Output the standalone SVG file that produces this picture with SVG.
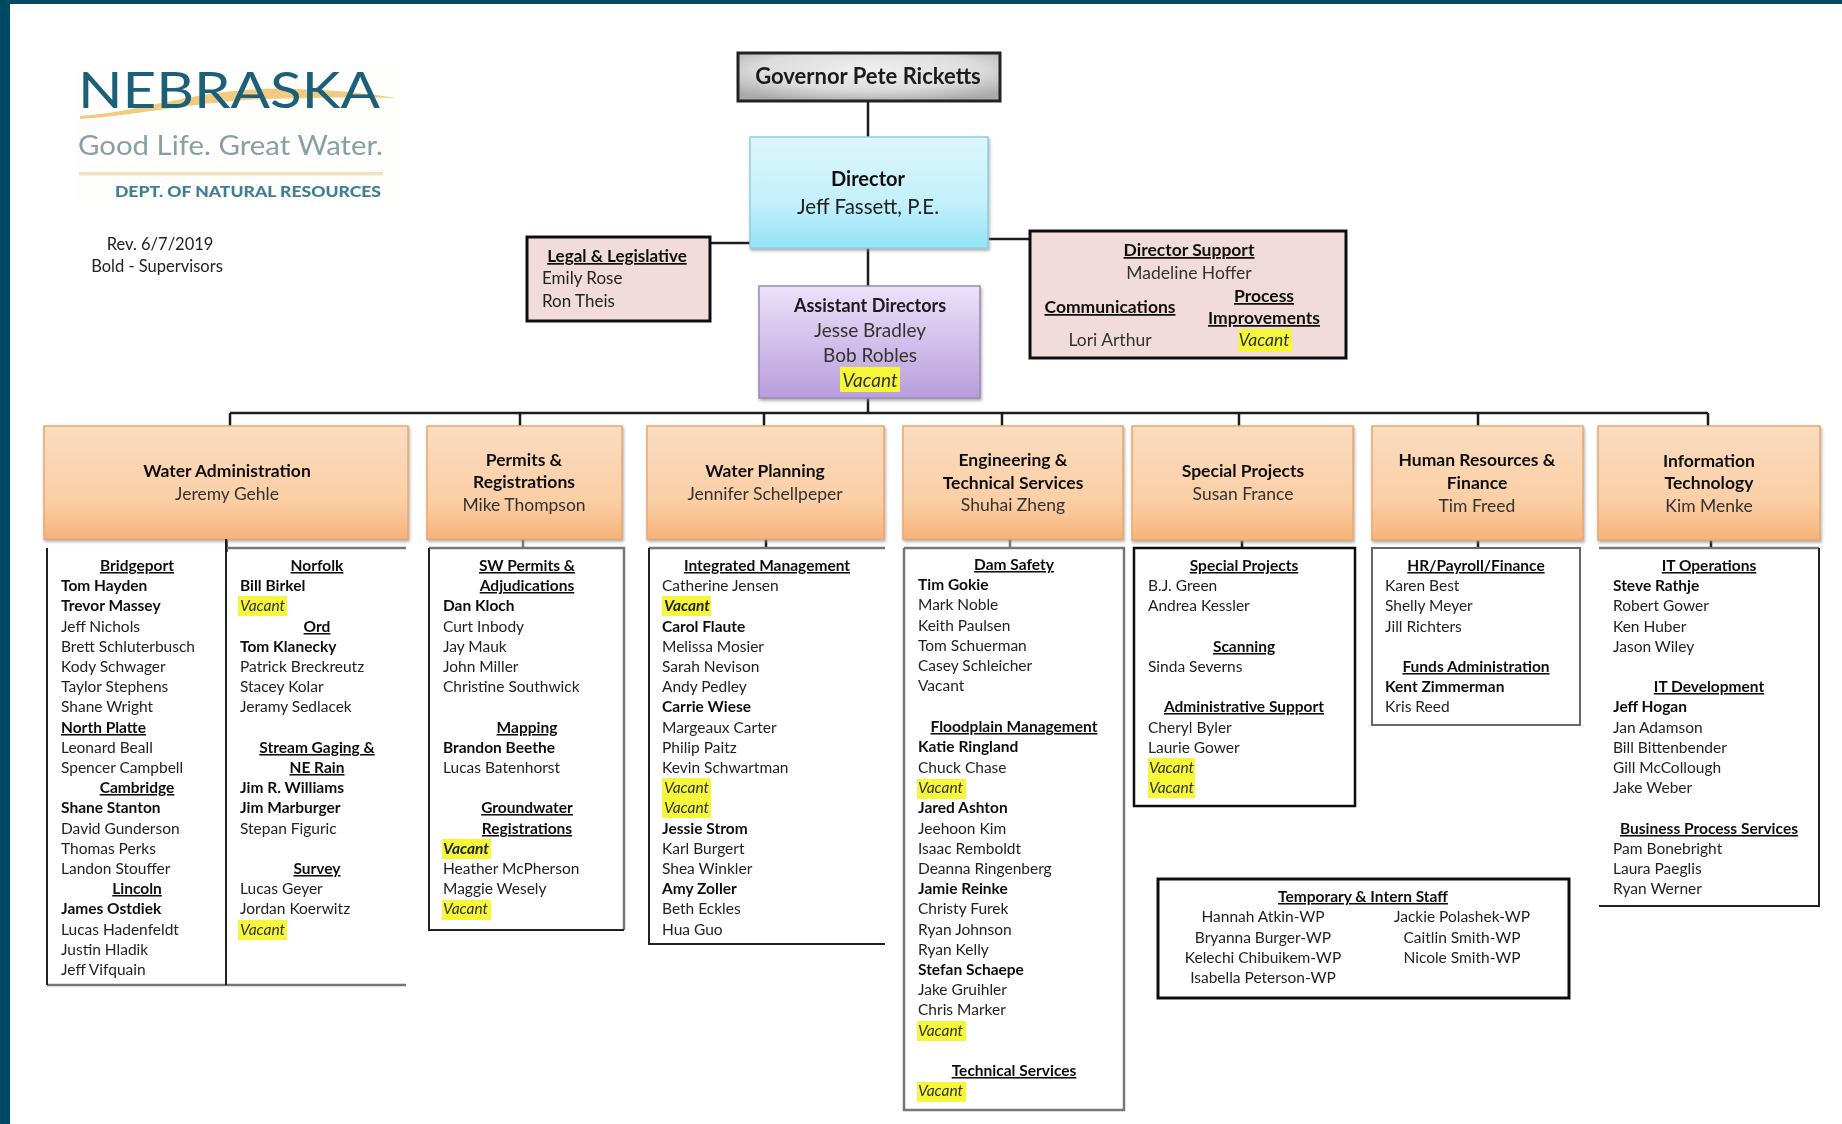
<svg xmlns="http://www.w3.org/2000/svg" width="1842" height="1124" viewBox="0 0 1842 1124">
<style>
text{font-family:Lato,"Open Sans","Liberation Sans",sans-serif;font-size:15.5px;fill:#222}
.b{font-weight:700;fill:#111}
.h{font-weight:700;fill:#111;text-anchor:middle;text-decoration:underline}
.hl{font-weight:700;fill:#111;text-decoration:underline}
.v{font-style:italic;fill:#333}
.vb{font-style:italic;font-weight:700;fill:#222}
.c{text-anchor:middle}
.t{font-size:17.5px;text-anchor:middle;fill:#333}
.tb{font-size:17.5px;font-weight:700;text-anchor:middle;fill:#111}
.d{font-size:17px}
.y{fill:#f5f738}
.pink{fill:#f2dcdb;stroke:#111;stroke-width:3}
.orange{fill:url(#go);stroke:#e9a870;stroke-width:1.5;filter:url(#sh)}
.conn{stroke:#1a1a1a;stroke-width:2.5;fill:none}
.e{stroke:#222;stroke-width:2;fill:none}
.g{stroke:#777;stroke-width:2.5;fill:none}
.k{fill:#fff;stroke:#111;stroke-width:2.5}
</style>
<defs>
<linearGradient id="go" x1="0" y1="0" x2="0" y2="1"><stop offset="0" stop-color="#fbdcc0"/><stop offset=".65" stop-color="#fbcfa6"/><stop offset="1" stop-color="#f8b37a"/></linearGradient>
<linearGradient id="gb" x1="0" y1="0" x2="0" y2="1"><stop offset="0" stop-color="#def6fc"/><stop offset=".6" stop-color="#c2f0fb"/><stop offset="1" stop-color="#93e3f6"/></linearGradient>
<linearGradient id="gp" x1="0" y1="0" x2="0" y2="1"><stop offset="0" stop-color="#ece2fa"/><stop offset="1" stop-color="#b99ddb"/></linearGradient>
<radialGradient id="gg" cx=".5" cy=".35" r=".7"><stop offset="0" stop-color="#f0f0f0"/><stop offset=".6" stop-color="#dcdcdc"/><stop offset="1" stop-color="#a9a9a9"/></radialGradient>
<filter id="sh" x="-5%" y="-5%" width="110%" height="115%"><feDropShadow dx="1" dy="2" stdDeviation="1.5" flood-color="#888" flood-opacity=".7"/></filter>
<filter id="soft" filterUnits="userSpaceOnUse" x="0" y="0" width="1842" height="1124"><feGaussianBlur stdDeviation="0.7"/></filter>
</defs>
<rect width="1842" height="1124" fill="#fff"/>
<g filter="url(#soft)">
<g id="frame"><rect width="1842" height="4" fill="#014a63"/><rect width="10" height="1124" fill="#014a63"/></g>
<g id="logo">
<rect x="75" y="68" width="325" height="132" fill="#fefefc"/>
<path d="M80 116C140 112 190 92 260 89C310 88 360 92 396 98C350 97 310 98 265 99C200 101 140 115 80 119Z" fill="#f0cb80"/>
<text x="78" y="108" textLength="302" lengthAdjust="spacingAndGlyphs" style="font-size:50px;font-weight:400;fill:#1f5f78">NEBRASKA</text>
<text x="78" y="155" textLength="305" lengthAdjust="spacingAndGlyphs" style="font-size:27px;font-weight:400;fill:#87a0a5">Good Life. Great Water.</text>
<rect x="79" y="172" width="304" height="3.5" fill="#f3e3bc"/>
<text x="115" y="197" textLength="266" lengthAdjust="spacingAndGlyphs" style="font-size:15.5px;font-weight:900;fill:#3f7e97">DEPT. OF NATURAL RESOURCES</text>
</g>
<g id="revision">
<text x="160" y="250" class="c" style="font-size:16.5px">Rev. 6/7/2019</text>
<text x="157" y="272" class="c" style="font-size:16.5px">Bold - Supervisors</text>
</g>
<g id="connectors">
<path class="conn" d="M868 101V137M868 248V287M868 398V413M230 413H1708M710 243H750M988 239H1030M230 413V426M520 413V426M764 413V426M1002 413V426M1239 413V426M1478 413V426M1708 413V426"/>
<path class="conn" d="M226.500 539V552M1242 540V548M1478 540V548M1711 540V548M766 539V548"/>
<path class="g" d="M523 539V548M1010 539V548"/>
</g>
<g id="governor"><rect x="738" y="53" width="262" height="48" fill="url(#gg)" stroke="#222" stroke-width="3"/>
<text x="868" y="84" class="tb" style="font-size:22px;fill:#1a1a1a">Governor Pete Ricketts</text></g>
<g id="director"><rect x="750" y="137" width="238" height="111" fill="url(#gb)" stroke="#8fcfdf" stroke-width="1.500" filter="url(#sh)"/>
<text x="868" y="186" class="tb" style="font-size:20px">Director</text>
<text x="868" y="214" class="t" style="font-size:20.500px;fill:#222">Jeff Fassett, P.E.</text></g>
<g id="legal"><rect class="pink" x="527" y="237" width="183" height="84"/>
<text x="617" y="262" class="tb" style="text-decoration:underline;font-size:17px">Legal &amp; Legislative</text>
<text x="542" y="284" class="d">Emily Rose</text><text x="542" y="307" class="d">Ron Theis</text></g>
<g id="assistant"><rect x="759" y="286" width="221" height="112" fill="url(#gp)" stroke="#9c8ab8" stroke-width="1.500" filter="url(#sh)"/>
<text x="870" y="312" class="tb" style="fill:#1a1a1a;font-size:18px">Assistant Directors</text>
<text x="870" y="337" class="t" style="font-size:19px">Jesse Bradley</text>
<text x="870" y="362" class="t" style="font-size:19px">Bob Robles</text>
<rect class="y" x="840" y="367" width="60" height="25"/><text x="870" y="387" class="t" style="font-size:19px;font-style:italic">Vacant</text></g>
<g id="support"><rect class="pink" x="1030" y="231" width="316" height="127"/>
<text x="1189" y="256" class="tb" style="text-decoration:underline">Director Support</text>
<text x="1189" y="279" class="t">Madeline Hoffer</text>
<text x="1110" y="313" class="tb" style="text-decoration:underline">Communications</text>
<text x="1110" y="346" class="t">Lori Arthur</text>
<text x="1264" y="302" class="tb" style="text-decoration:underline">Process</text>
<text x="1264" y="324" class="tb" style="text-decoration:underline">Improvements</text>
<rect class="y" x="1238" y="329" width="54" height="23"/><text x="1264" y="346" class="t" style="font-style:italic">Vacant</text></g>

<g id="water-admin"><rect class="orange" x="44" y="426" width="364" height="113"/>
<text x="227" y="477" class="tb">Water Administration</text><text x="227" y="500" class="t">Jeremy Gehle</text></g>
<g id="permits"><rect class="orange" x="427" y="426" width="195" height="113"/>
<text x="524" y="466" class="tb">Permits &amp;</text><text x="524" y="488" class="tb">Registrations</text><text x="524" y="511" class="t">Mike Thompson</text></g>
<g id="water-planning"><rect class="orange" x="647" y="426" width="237" height="113"/>
<text x="765" y="477" class="tb">Water Planning</text><text x="765" y="500" class="t">Jennifer Schellpeper</text></g>
<g id="engineering"><rect class="orange" x="903" y="426" width="220" height="113"/>
<text x="1013" y="466" class="tb">Engineering &amp;</text><text x="1013" y="489" class="tb">Technical Services</text><text x="1013" y="511" class="t">Shuhai Zheng</text></g>
<g id="special-projects"><rect class="orange" x="1132" y="426" width="221" height="114"/>
<text x="1243" y="477" class="tb">Special Projects</text><text x="1243" y="500" class="t">Susan France</text></g>
<g id="hr"><rect class="orange" x="1372" y="426" width="211" height="114"/>
<text x="1477" y="466" class="tb">Human Resources &amp;</text><text x="1477" y="489" class="tb">Finance</text><text x="1477" y="512" class="t">Tim Freed</text></g>
<g id="it"><rect class="orange" x="1598" y="426" width="222" height="114"/>
<text x="1709" y="467" class="tb">Information</text><text x="1709" y="489" class="tb">Technology</text><text x="1709" y="512" class="t">Kim Menke</text></g>

<g id="water-admin-staff">
<path class="g" d="M226 548H406M47 985H226M226 985H406"/>
<path class="e" d="M47 548V985M226 539V985"/>
<text x="137" y="571" class="h">Bridgeport</text>
<text x="61" y="591" class="b">Tom Hayden</text><text x="61" y="611" class="b">Trevor Massey</text>
<text x="61" y="632">Jeff Nichols</text><text x="61" y="652">Brett Schluterbusch</text><text x="61" y="672">Kody Schwager</text><text x="61" y="692">Taylor Stephens</text><text x="61" y="712">Shane Wright</text>
<text x="61" y="733" class="hl">North Platte</text>
<text x="61" y="753">Leonard Beall</text><text x="61" y="773">Spencer Campbell</text>
<text x="137" y="793" class="h">Cambridge</text>
<text x="61" y="813" class="b">Shane Stanton</text><text x="61" y="834">David Gunderson</text><text x="61" y="854">Thomas Perks</text><text x="61" y="874">Landon Stouffer</text>
<text x="137" y="894" class="h">Lincoln</text>
<text x="61" y="914" class="b">James Ostdiek</text><text x="61" y="935">Lucas Hadenfeldt</text><text x="61" y="955">Justin Hladik</text><text x="61" y="975">Jeff Vifquain</text>
<text x="317" y="571" class="h">Norfolk</text>
<text x="240" y="591" class="b">Bill Birkel</text>
<rect class="y" x="238" y="596" width="49" height="20"/><text x="240" y="611" class="v">Vacant</text>
<text x="317" y="632" class="h">Ord</text>
<text x="240" y="652" class="b">Tom Klanecky</text><text x="240" y="672">Patrick Breckreutz</text><text x="240" y="692">Stacey Kolar</text><text x="240" y="712">Jeramy Sedlacek</text>
<text x="317" y="753" class="h">Stream Gaging &amp;</text><text x="317" y="773" class="h">NE Rain</text>
<text x="240" y="793" class="b">Jim R. Williams</text><text x="240" y="813" class="b">Jim Marburger</text><text x="240" y="834">Stepan Figuric</text>
<text x="317" y="874" class="h">Survey</text>
<text x="240" y="894">Lucas Geyer</text><text x="240" y="914">Jordan Koerwitz</text>
<rect class="y" x="238" y="920" width="49" height="20"/><text x="240" y="935" class="v">Vacant</text>
</g>

<g id="permits-staff">
<path class="g" d="M429 548H624V930"/>
<path class="e" d="M429 548V930H624"/>
<text x="527" y="571" class="h">SW Permits &amp;</text><text x="527" y="591" class="h">Adjudications</text>
<text x="443" y="611" class="b">Dan Kloch</text><text x="443" y="632">Curt Inbody</text><text x="443" y="652">Jay Mauk</text><text x="443" y="672">John Miller</text><text x="443" y="692">Christine Southwick</text>
<text x="527" y="733" class="h">Mapping</text>
<text x="443" y="753" class="b">Brandon Beethe</text><text x="443" y="773">Lucas Batenhorst</text>
<text x="527" y="813" class="h">Groundwater</text><text x="527" y="834" class="h">Registrations</text>
<rect class="y" x="442" y="839" width="49" height="20"/><text x="443" y="854" class="vb">Vacant</text>
<text x="443" y="874">Heather McPherson</text><text x="443" y="894">Maggie Wesely</text>
<rect class="y" x="442" y="900" width="49" height="20"/><text x="443" y="914" class="v">Vacant</text>
</g>

<g id="water-planning-staff">
<path class="g" d="M649 548H885"/>
<path class="e" d="M649 548V944H885"/>
<text x="767" y="571" class="h">Integrated Management</text>
<text x="662" y="591">Catherine Jensen</text>
<rect class="y" x="662" y="596" width="49" height="20"/><text x="664" y="611" class="vb">Vacant</text>
<text x="662" y="632" class="b">Carol Flaute</text><text x="662" y="652">Melissa Mosier</text><text x="662" y="672">Sarah Nevison</text><text x="662" y="692">Andy Pedley</text>
<text x="662" y="712" class="b">Carrie Wiese</text><text x="662" y="733">Margeaux Carter</text><text x="662" y="753">Philip Paitz</text><text x="662" y="773">Kevin Schwartman</text>
<rect class="y" x="662" y="778" width="49" height="40"/><text x="664" y="793" class="v">Vacant</text><text x="664" y="813" class="v">Vacant</text>
<text x="662" y="834" class="b">Jessie Strom</text><text x="662" y="854">Karl Burgert</text><text x="662" y="874">Shea Winkler</text>
<text x="662" y="894" class="b">Amy Zoller</text><text x="662" y="914">Beth Eckles</text><text x="662" y="935">Hua Guo</text>
</g>

<g id="engineering-staff">
<path class="g" d="M904 548H1124V1110H904V548"/>
<text x="1014" y="570" class="h">Dam Safety</text>
<text x="918" y="590" class="b">Tim Gokie</text><text x="918" y="610">Mark Noble</text><text x="918" y="631">Keith Paulsen</text><text x="918" y="651">Tom Schuerman</text><text x="918" y="671">Casey Schleicher</text><text x="918" y="691">Vacant</text>
<text x="1014" y="732" class="h">Floodplain Management</text>
<text x="918" y="752" class="b">Katie Ringland</text><text x="918" y="773">Chuck Chase</text>
<rect class="y" x="917" y="779" width="49" height="20"/><text x="918" y="793" class="v">Vacant</text>
<text x="918" y="813" class="b">Jared Ashton</text><text x="918" y="834">Jeehoon Kim</text><text x="918" y="854">Isaac Remboldt</text><text x="918" y="874">Deanna Ringenberg</text>
<text x="918" y="894" class="b">Jamie Reinke</text><text x="918" y="914">Christy Furek</text><text x="918" y="935">Ryan Johnson</text><text x="918" y="955">Ryan Kelly</text>
<text x="918" y="975" class="b">Stefan Schaepe</text><text x="918" y="995">Jake Gruihler</text><text x="918" y="1015">Chris Marker</text>
<rect class="y" x="917" y="1021" width="49" height="20"/><text x="918" y="1036" class="v">Vacant</text>
<text x="1014" y="1076" class="h">Technical Services</text>
<rect class="y" x="917" y="1082" width="49" height="20"/><text x="918" y="1096" class="v">Vacant</text>
</g>

<g id="special-staff">
<rect class="k" x="1134" y="548" width="221" height="258"/>
<text x="1244" y="571" class="h">Special Projects</text>
<text x="1148" y="591">B.J. Green</text><text x="1148" y="611">Andrea Kessler</text>
<text x="1244" y="652" class="h">Scanning</text><text x="1148" y="672">Sinda Severns</text>
<text x="1244" y="712" class="h">Administrative Support</text>
<text x="1148" y="733">Cheryl Byler</text><text x="1148" y="753">Laurie Gower</text>
<rect class="y" x="1148" y="758" width="47" height="40"/><text x="1149" y="773" class="v">Vacant</text><text x="1149" y="793" class="v">Vacant</text>
</g>

<g id="hr-staff">
<rect x="1372" y="548" width="208" height="177" fill="#fff" stroke="#666" stroke-width="2"/>
<text x="1476" y="571" class="h">HR/Payroll/Finance</text>
<text x="1385" y="591">Karen Best</text><text x="1385" y="611">Shelly Meyer</text><text x="1385" y="632">Jill Richters</text>
<text x="1476" y="672" class="h">Funds Administration</text>
<text x="1385" y="692" class="b">Kent Zimmerman</text><text x="1385" y="712">Kris Reed</text>
</g>

<g id="it-staff">
<path class="g" d="M1599 548H1819"/>
<path class="e" d="M1819 548V906H1599"/>
<text x="1709" y="571" class="h">IT Operations</text>
<text x="1613" y="591" class="b">Steve Rathje</text><text x="1613" y="611">Robert Gower</text><text x="1613" y="632">Ken Huber</text><text x="1613" y="652">Jason Wiley</text>
<text x="1709" y="692" class="h">IT Development</text>
<text x="1613" y="712" class="b">Jeff Hogan</text><text x="1613" y="733">Jan Adamson</text><text x="1613" y="753">Bill Bittenbender</text><text x="1613" y="773">Gill McCollough</text><text x="1613" y="793">Jake Weber</text>
<text x="1709" y="834" class="h">Business Process Services</text>
<text x="1613" y="854">Pam Bonebright</text><text x="1613" y="874">Laura Paeglis</text><text x="1613" y="894">Ryan Werner</text>
</g>

<g id="temp-staff">
<rect class="k" x="1158" y="879" width="411" height="119" style="stroke-width:3"/>
<text x="1363" y="902" class="h">Temporary &amp; Intern Staff</text>
<text x="1263" y="922" class="c">Hannah Atkin-WP</text><text x="1263" y="943" class="c">Bryanna Burger-WP</text><text x="1263" y="963" class="c">Kelechi Chibuikem-WP</text><text x="1263" y="983" class="c">Isabella Peterson-WP</text>
<text x="1462" y="922" class="c">Jackie Polashek-WP</text><text x="1462" y="943" class="c">Caitlin Smith-WP</text><text x="1462" y="963" class="c">Nicole Smith-WP</text>
</g>
</g>
</svg>
